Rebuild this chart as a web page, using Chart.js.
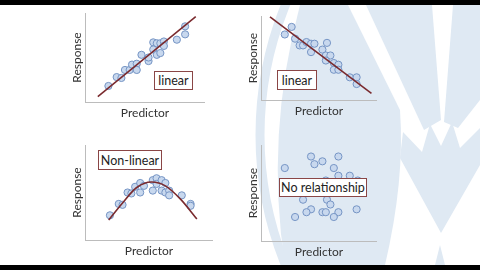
<!DOCTYPE html>
<html>
<head>
<meta charset="utf-8">
<script src="https://cdn.jsdelivr.net/npm/chart.js@4.4.1/dist/chart.umd.min.js"></script>
<style>
  html, body { margin: 0; padding: 0; background: #000; }
  #stage { position: relative; width: 480px; height: 270px; overflow: hidden; background: #000; }
  #bg { position: absolute; left: 0; top: 5px; }
  canvas { position: absolute; }
  .lbl { position: absolute; box-sizing: border-box; border: 1.5px solid #8a4646; background: #fff;
         font-family: Lato, "Open Sans", sans-serif; font-size: 12.5px; color: #222;
         display: flex; align-items: center; justify-content: center; white-space: nowrap; }
</style>
</head>
<body>
<div id="stage">
  <svg id="bg" width="480" height="260" viewBox="0 5 480 260">
    <rect x="0" y="5" width="480" height="260" fill="#ffffff"/>
    <circle cx="605" cy="135" r="345" fill="none" stroke="#dfe9f3" stroke-width="9"/>
    <path d="M300,5 L348,5 L400,110 Q405,180 385,265 L285,265 Q265,135 300,5 Z" fill="#dfe9f3"/>
    <polygon points="366,5 432,5 441,120 424,130" fill="#dfe9f3"/>
    <polygon points="453,5 480,5 480,100 458,128 444,122" fill="#dfe9f3"/>
    <polygon points="403,132 422,152 430,124 441,146 452,122 460,148 480,128 480,165 441,233 400,158" fill="#dfe9f3"/>
    <polygon points="435,265 445,265 440,245" fill="#dfe9f3"/>
  </svg>
  <canvas id="c1"></canvas>
  <canvas id="c2"></canvas>
  <canvas id="c3"></canvas>
  <canvas id="c4"></canvas>
</div>
<script>
// ---- Data (arbitrary 0-10 units) ----
const axisTitleX = "Predictor";
const axisTitleY = "Response";

// Panel 1: positive linear
const p1X = [1.9, 2.6, 3.0, 3.3, 3.7, 3.9, 4.3, 4.3, 4.7, 5.3, 5.3, 5.7, 6.0, 5.7, 6.0, 6.3, 6.3, 6.6, 6.6, 7.7, 8.4, 8.4];
const p1Y = [1.8, 2.8, 2.7, 3.6, 3.6, 4.2, 4.3, 3.6, 5.3, 4.6, 5.0, 6.7, 6.6, 5.9, 5.3, 5.5, 6.6, 6.8, 6.3, 7.0, 7.6, 8.5];
const p1LineX = [1.0, 9.3];
const p1LineY = [0.6, 9.6];
const p1Label = "linear";

// Panel 2: negative linear
const p2X = [2.0, 2.6, 2.9, 3.3, 3.6, 3.9, 4.3, 4.3, 4.6, 5.3, 5.7, 5.6, 6.0, 5.6, 6.3, 6.7, 6.3, 6.7, 7.7, 8.3, 8.3];
const p2Y = [7.8, 8.7, 7.3, 6.5, 6.5, 6.9, 6.7, 5.7, 6.7, 6.0, 6.8, 5.3, 5.3, 4.7, 4.4, 4.2, 3.6, 3.6, 2.7, 2.7, 1.9];
const p2LineX = [0.7, 9.6];
const p2LineY = [9.9, 0.8];
const p2Label = "linear";

// Panel 3: non-linear (curved)
const p3X = [1.9, 2.6, 2.9, 3.3, 3.6, 3.9, 4.3, 4.3, 4.6, 5.3, 5.3, 5.6, 5.6, 6.0, 6.0, 6.3, 6.3, 6.6, 6.6, 7.6, 8.3, 8.3];
const p3Y = [2.6, 3.8, 3.7, 5.0, 4.9, 5.6, 6.0, 5.0, 5.7, 5.2, 6.3, 6.5, 5.9, 6.3, 5.2, 6.0, 5.0, 5.2, 4.7, 4.7, 3.8, 3.6];
const p3CurveX = [1.8, 2.9, 4.0, 5.2, 6.3, 7.5, 8.8];
const p3CurveY = [2.1, 3.9, 5.5, 6.1, 5.7, 4.3, 2.2];
const p3Label = "Non-linear";

// Panel 4: no relationship
const p4X = [2.0, 4.3, 4.6, 5.3, 6.7, 6.3, 6.7, 7.7, 8.4, 5.6, 3.6, 5.7, 6.0, 4.3, 3.9, 5.3, 5.6, 6.7, 6.3, 2.9, 8.3];
const p4Y = [7.6, 8.8, 8.0, 8.3, 8.8, 7.6, 6.8, 6.8, 6.3, 6.3, 4.3, 4.3, 3.8, 3.3, 3.0, 3.0, 3.0, 3.0, 2.5, 2.5, 3.3];
const p4Label = "No relationship";

// ---- Layout (pixel placement of each panel's axes and label box) ----
const panels = [
  { id: "c1", ax: 86,  ar: 208, at: 8,   ab: 102, xs: p1X, ys: p1Y, lx: p1LineX, ly: p1LineY, curve: false, label: p1Label, box: [154, 71, 39, 19] },
  { id: "c2", ax: 262, ar: 380, at: 11,  ab: 100, xs: p2X, ys: p2Y, lx: p2LineX, ly: p2LineY, curve: false, label: p2Label, box: [277, 70, 40, 20] },
  { id: "c3", ax: 86,  ar: 216, at: 140, ab: 240, xs: p3X, ys: p3Y, lx: p3CurveX, ly: p3CurveY, curve: true, label: p3Label, box: [98, 150, 64, 20] },
  { id: "c4", ax: 262, ar: 380, at: 140, ab: 241, xs: p4X, ys: p4Y, lx: null, ly: null, curve: false, label: p4Label, box: [279, 178, 88, 19] }
];

const titleFont = { family: "Lato, 'Open Sans', sans-serif", size: 12 };
const lh = 12 * 1.2;
const yTitleW = lh + 2;   // padding top 0, bottom 2
const xTitleH = lh + 4;   // padding top 4, bottom 0

const stage = document.getElementById("stage");

panels.forEach(p => {
  const cv = document.getElementById(p.id);
  const left = Math.floor(p.ax - yTitleW);
  const padL = p.ax - yTitleW - left;
  const width = p.ar - left + 1;
  const height = Math.ceil(p.ab - p.at + xTitleH);
  const padB = height - (p.ab - p.at + xTitleH);
  cv.width = width; cv.height = height;
  cv.style.left = left + "px"; cv.style.top = p.at + "px";
  cv.style.width = width + "px"; cv.style.height = height + "px";

  const datasets = [{
    data: p.xs.map((x, i) => ({ x: x, y: p.ys[i] })),
    showLine: false,
    pointRadius: 3.6,
    pointBackgroundColor: "#c8d8ee",
    pointBorderColor: "#7594c4",
    pointBorderWidth: 1,
    order: 2
  }];
  if (p.lx) {
    datasets.push({
      data: p.lx.map((x, i) => ({ x: x, y: p.ly[i] })),
      showLine: true,
      pointRadius: 0,
      borderColor: "#7a2a2e",
      borderWidth: 1.6,
      tension: p.curve ? 0.4 : 0,
      cubicInterpolationMode: p.curve ? "monotone" : "default",
      order: 1
    });
  }

  new Chart(cv, {
    type: "scatter",
    data: { datasets },
    options: {
      responsive: false,
      animation: false,
      devicePixelRatio: 1,
      layout: { padding: { left: padL, right: 1, top: 0, bottom: padB } },
      plugins: { legend: { display: false }, tooltip: { enabled: false } },
      scales: {
        x: {
          type: "linear", min: 0, max: 10,
          grid: { display: false, drawTicks: false },
          border: { display: true, color: "#bcbcbc", width: 1 },
          ticks: { display: false },
          title: { display: true, text: axisTitleX, color: "#333", font: titleFont, padding: { top: 4, bottom: 0 } }
        },
        y: {
          type: "linear", min: 0, max: 10,
          grid: { display: false, drawTicks: false },
          border: { display: true, color: "#bcbcbc", width: 1 },
          ticks: { display: false },
          title: { display: true, text: axisTitleY, color: "#333", font: titleFont, padding: { top: 0, bottom: 2 } }
        }
      }
    }
  });

  const b = document.createElement("div");
  b.className = "lbl";
  b.textContent = p.label;
  b.style.left = p.box[0] + "px"; b.style.top = p.box[1] + "px";
  b.style.width = p.box[2] + "px"; b.style.height = p.box[3] + "px";
  stage.appendChild(b);
});
</script>
</body>
</html>
